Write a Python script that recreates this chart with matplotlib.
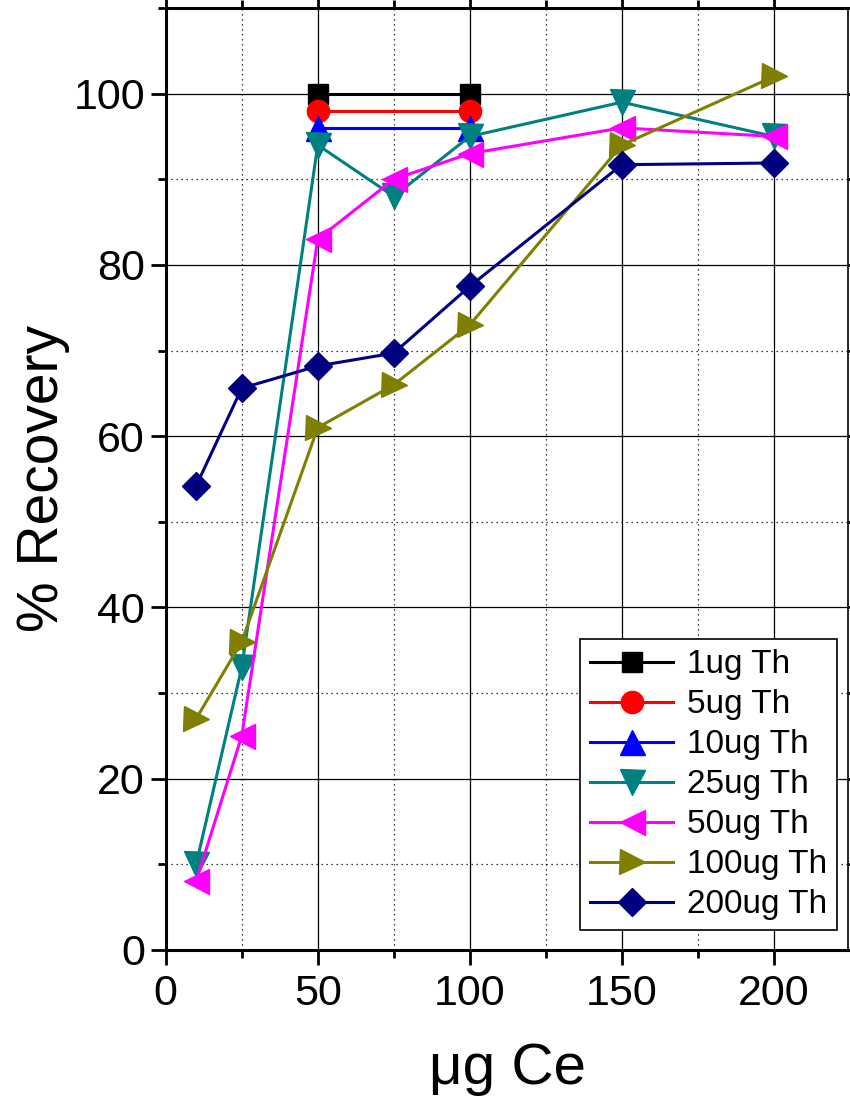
import numpy as np
import matplotlib.pyplot as plt
from matplotlib.ticker import MultipleLocator

plt.rcParams['font.family'] = ['Liberation Sans', 'DejaVu Sans']

# data
x_short = [50, 100]
x_full = [10, 25, 50, 75, 100, 150, 200]
th1 = [100, 100]
th5 = [98, 98]
th10 = [96, 96]
th25 = [10, 33, 94, 88, 95, 99, 95]
th50 = [8, 25, 83, 90, 93, 96, 95]
th100 = [27, 36, 61, 66, 73, 94, 102]
th200 = [54.2, 65.6, 68.2, 69.7, 77.5, 91.7, 91.9]

fig = plt.figure(figsize=(8.5, 11.08), dpi=100)
ax = fig.add_axes([0.195, 0.1426, 0.803, 0.8502])

lw = 2.2
ax.plot(x_short, th1, color='black', marker='s', ms=15, lw=lw, label='1ug Th')
ax.plot(x_short, th5, color='red', marker='o', ms=16, lw=lw, label='5ug Th')
ax.plot(x_short, th10, color='blue', marker='^', ms=18, lw=lw, label='10ug Th')
ax.plot(x_full, th25, color='#008080', marker='v', ms=18, lw=lw, label='25ug Th')
ax.plot(x_full, th50, color='#FF00FF', marker='<', ms=18, lw=lw, label='50ug Th')
ax.plot(x_full, th100, color='#808000', marker='>', ms=18, lw=lw, label='100ug Th')
ax.plot(x_full, th200, color='#000080', marker='D', ms=14, lw=lw, label='200ug Th')

ax.set_xlim(0, 224.5)
ax.set_ylim(0, 110)
ax.xaxis.set_major_locator(MultipleLocator(50))
ax.xaxis.set_minor_locator(MultipleLocator(25))
ax.yaxis.set_major_locator(MultipleLocator(20))
ax.yaxis.set_minor_locator(MultipleLocator(10))

ax.grid(which='major', color='black', lw=0.9, ls='-')
ax.grid(which='minor', color='black', lw=0.9, ls=(0, (1, 3)))
ax.set_axisbelow(True)

for s in ax.spines.values():
    s.set_linewidth(2.2)
ax.spines['right'].set_linewidth(1.2)

ax.tick_params(which='major', direction='out', length=11, width=2, labelsize=31)
ax.tick_params(which='minor', direction='out', length=6, width=2)
ax.tick_params(which='both', top=True, right=True, labeltop=False, labelright=False)
ax.tick_params(axis='x', pad=6)
ax.tick_params(axis='y', pad=4)

ax.set_xlabel('\u03bcg Ce', fontsize=42)
ax.set_ylabel('% Recovery', fontsize=41)
ax.xaxis.set_label_coords(0.5, -0.098)
ax.yaxis.set_label_coords(-0.14, 0.5)

leg = ax.legend(loc='lower right', bbox_to_anchor=(0.983, 0.021), fontsize=24,
                handlelength=2.5, handletextpad=0.4, labelspacing=0.27,
                borderpad=0.3, borderaxespad=0, fancybox=False, framealpha=1,
                edgecolor='black', markerscale=1.0)
leg.get_frame().set_linewidth(1.2)

plt.savefig('out.png', dpi=100)
